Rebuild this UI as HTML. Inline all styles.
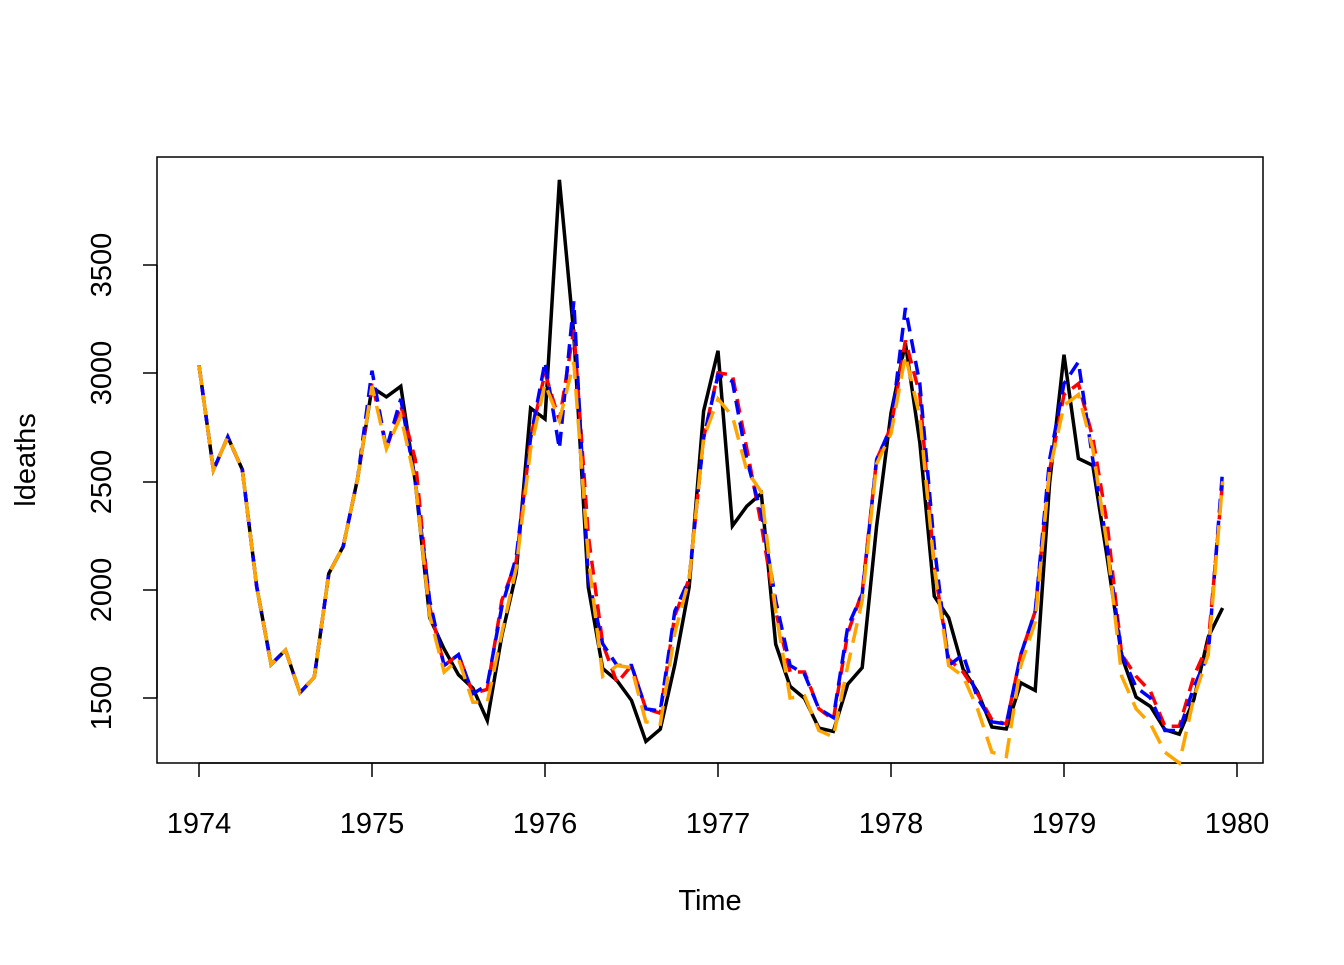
<!DOCTYPE html>
<html><head><meta charset="utf-8"><style>html,body{margin:0;padding:0;background:#fff}</style></head>
<body>
<svg id="s" width="1344" height="960" xmlns="http://www.w3.org/2000/svg" font-family="Liberation Sans, sans-serif" font-size="29">
<rect x="157" y="157" width="1106" height="606" fill="none" stroke="#000" stroke-width="1.5"/>
<g stroke="#000" stroke-width="1.5">
<line x1="199" y1="763" x2="1237" y2="763"/>
<line x1="199" y1="763" x2="199" y2="777"/><line x1="372" y1="763" x2="372" y2="777"/><line x1="545" y1="763" x2="545" y2="777"/><line x1="718" y1="763" x2="718" y2="777"/><line x1="891" y1="763" x2="891" y2="777"/><line x1="1064" y1="763" x2="1064" y2="777"/><line x1="1237" y1="763" x2="1237" y2="777"/>
<line x1="157" y1="698" x2="157" y2="265"/>
<line x1="143" y1="698" x2="157" y2="698"/><line x1="143" y1="590" x2="157" y2="590"/><line x1="143" y1="482" x2="157" y2="482"/><line x1="143" y1="373" x2="157" y2="373"/><line x1="143" y1="265" x2="157" y2="265"/>
</g>
<g text-anchor="middle">
<text x="199" y="833">1974</text><text x="372" y="833">1975</text><text x="545" y="833">1976</text><text x="718" y="833">1977</text><text x="891" y="833">1978</text><text x="1064" y="833">1979</text><text x="1237" y="833">1980</text>
<text x="710" y="910">Time</text>
<text transform="translate(111,698) rotate(-90)">1500</text>
<text transform="translate(111,590) rotate(-90)">2000</text>
<text transform="translate(111,482) rotate(-90)">2500</text>
<text transform="translate(111,373) rotate(-90)">3000</text>
<text transform="translate(111,265) rotate(-90)">3500</text>
<text transform="translate(35,460) rotate(-90)">ldeaths</text>
</g>
<g id="lines" fill="none" stroke-width="3.5"></g>
</svg>
<script>
var d74=[3035,2552,2704,2554,2014,1655,1721,1524,1596,2074,2199,2512];
var black=d74.concat([2933,2889,2938,2497,1870,1726,1607,1545,1396,1787,2076,2837,
2787,3891,3179,2011,1636,1580,1489,1300,1356,1653,2013,2823,
3102,2294,2385,2444,1748,1554,1498,1361,1346,1564,1640,2293,
2815,3137,2679,1969,1870,1633,1529,1366,1357,1570,1535,2491,
3084,2605,2573,2143,1693,1504,1461,1354,1333,1492,1781,1915]);
var blue=d74.concat([3010,2650,2880,2500,1950,1650,1700,1520,1560,1920,2150,2700,
3050,2650,3330,2050,1750,1650,1650,1450,1440,1900,2050,2700,
2990,2960,2600,2350,1950,1650,1610,1450,1410,1830,1980,2600,
2750,3300,2950,2200,1650,1700,1500,1390,1380,1700,1900,2600,
2950,3050,2600,2200,1700,1550,1500,1350,1350,1550,1700,2550]);
var red=d74.concat([2960,2650,2850,2600,1920,1650,1700,1520,1540,1950,2130,2700,
3000,2780,3200,2250,1750,1570,1650,1450,1430,1880,2050,2700,
3000,2990,2650,2300,1900,1620,1620,1450,1400,1800,1990,2600,
2750,3150,2900,2100,1680,1620,1520,1400,1380,1700,1900,2550,
2900,2950,2700,2300,1700,1600,1530,1370,1370,1600,1750,2500]);
var orange=d74.concat([2940,2650,2800,2500,1880,1620,1680,1480,1480,1800,2100,2650,
2950,2780,3050,2150,1600,1650,1640,1390,1380,1800,2050,2700,
2880,2800,2550,2450,1900,1500,1510,1350,1320,1650,1950,2580,
2720,3080,2800,2100,1650,1600,1450,1250,1230,1650,1850,2550,
2850,2900,2650,2200,1600,1450,1380,1250,1200,1500,1700,2500]);
function pts(a){return a.map(function(v,i){return (199+i*173/12).toFixed(1)+","+(698-(v-1500)*0.21675).toFixed(1)}).join(" ");}
var g=document.getElementById("lines");
function add(a,c,dash){var p=document.createElementNS("http://www.w3.org/2000/svg","polyline");p.setAttribute("points",pts(a));p.setAttribute("stroke",c);if(dash)p.setAttribute("stroke-dasharray",dash);g.appendChild(p);}
add(black,"#000",null);add(red,"#f00","14 8");add(blue,"#00f","14 8");add(orange,"#ffa500","20 10");
</script>
</body></html>
